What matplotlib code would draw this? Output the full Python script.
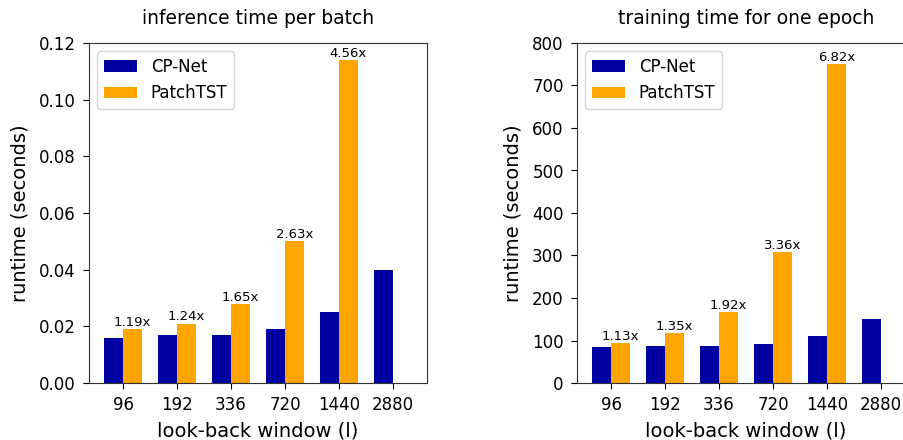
import matplotlib
matplotlib.use("Agg")
import matplotlib.pyplot as plt
import numpy as np

windows = ["96", "192", "336", "720", "1440", "2880"]

inf_cpnet = [0.016, 0.017, 0.017, 0.019, 0.025, 0.040]
inf_patchtst = [0.019, 0.021, 0.028, 0.050, 0.114, 0.0]
inf_ratio = ["1.19x", "1.24x", "1.65x", "2.63x", "4.56x", ""]

train_cpnet = [85, 87, 87, 92, 110, 151]
train_patchtst = [95, 118, 167, 309, 751, 0]
train_ratio = ["1.13x", "1.35x", "1.92x", "3.36x", "6.82x", ""]

titles = ["inference time per batch", "training time for one epoch"]

c_cp = "#0000A0"
c_pt = "#FFA500"
W, H = 904, 440

fig = plt.figure(figsize=(W / 100, H / 100), dpi=100)
ax1 = fig.add_axes([89 / W, (H - 383) / H, 338 / W, 340 / H])
ax2 = fig.add_axes([577 / W, (H - 383) / H, 338 / W, 340 / H])

width = 0.35
x = np.arange(len(windows))

panels = [
    (ax1, inf_cpnet, inf_patchtst, inf_ratio, titles[0], (0, 0.12), np.arange(0, 0.121, 0.02), "{:.2f}"),
    (ax2, train_cpnet, train_patchtst, train_ratio, titles[1], (0, 800), np.arange(0, 801, 100), "{:.0f}"),
]

for ax, cp, pt, ratio, title, ylim, yt, fmt in panels:
    ax.bar(x - width / 2, cp, width, color=c_cp, label="CP-Net")
    bars = ax.bar(x + width / 2, pt, width, color=c_pt, label="PatchTST")
    for b, r in zip(bars, ratio):
        if r:
            ax.text(b.get_x() + b.get_width() / 2, b.get_height(), r,
                    ha="center", va="bottom", fontsize=9.5)
    ax.set_ylim(*ylim)
    ax.set_yticks(yt)
    ax.set_yticklabels([fmt.format(v) for v in yt])
    ax.set_xticks(x)
    ax.set_xticklabels(windows)
    ax.tick_params(labelsize=12, length=4.5, pad=5)
    for s in ax.spines.values():
        s.set_color("#333333")
    ax.set_xlabel("look-back window (l)", fontsize=14, labelpad=5)
    ax.set_ylabel("runtime (seconds)", fontsize=14, labelpad=7)
    ax.set_title(title, fontsize=13.5, pad=14)
    ax.legend(loc="upper left", fontsize=12)

fig.savefig("out.png", dpi=100)
